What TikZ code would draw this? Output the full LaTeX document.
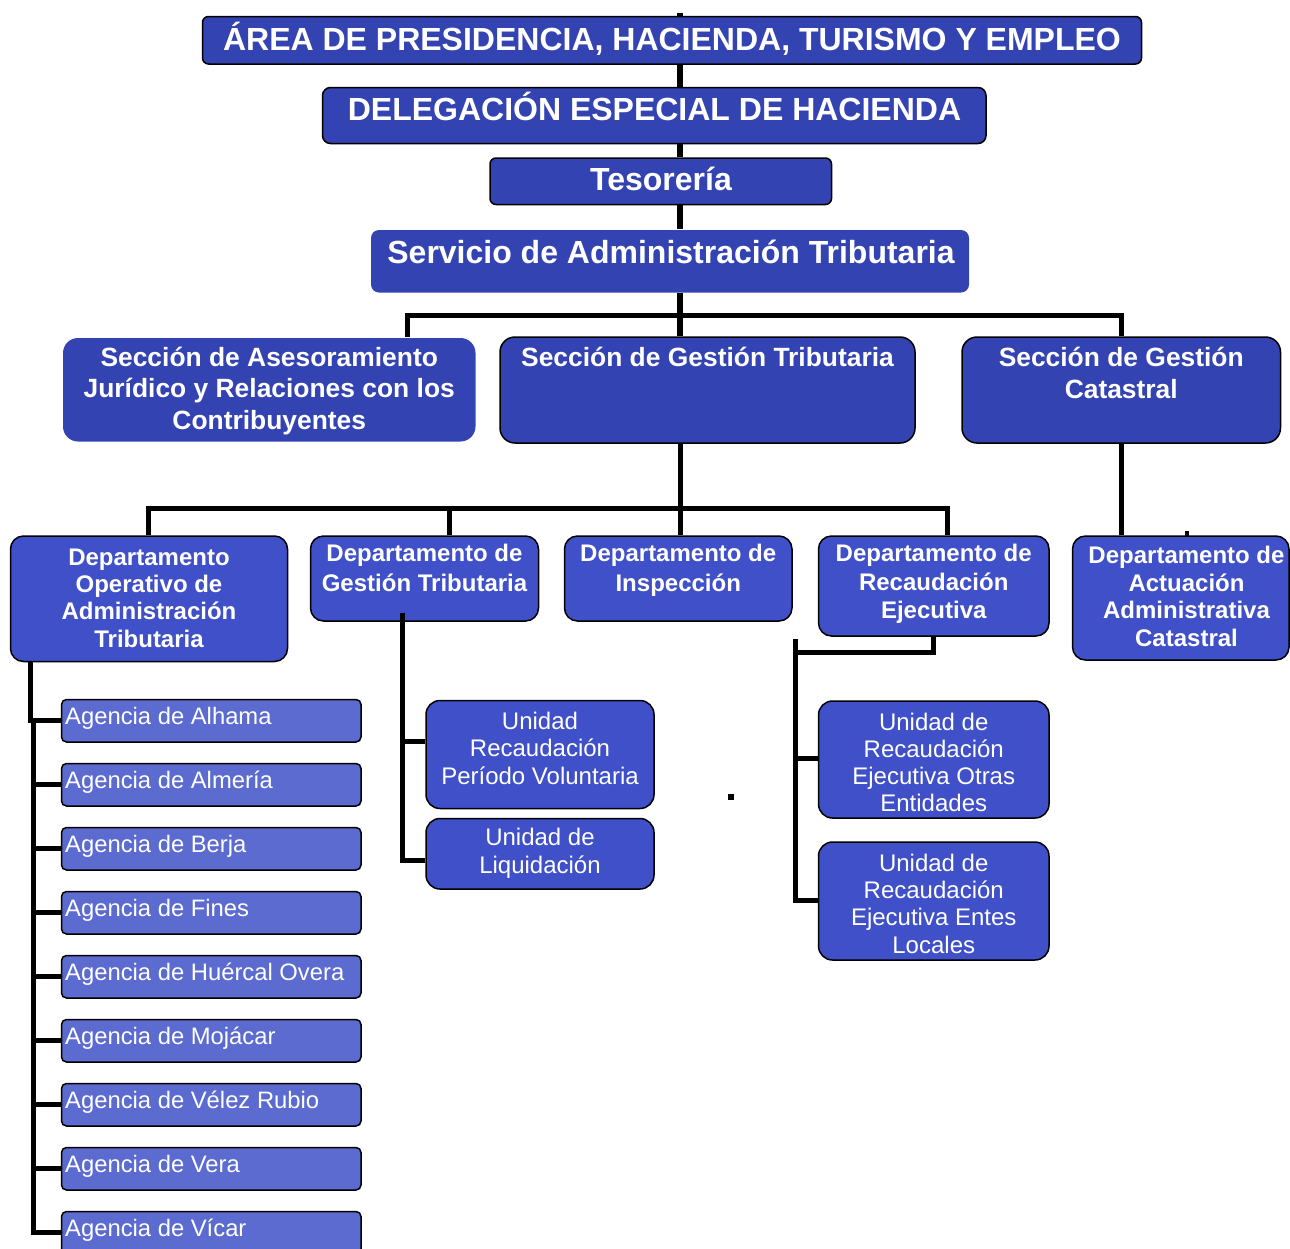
\documentclass[tikz,border=0pt]{standalone}
\usepackage{fontspec}
\setmainfont{Liberation Sans}
\definecolor{azulsup}{RGB}{52,67,178}
\definecolor{azuldep}{RGB}{64,80,200}
\definecolor{azulag}{RGB}{92,107,208}
\begin{document}
\begin{tikzpicture}[x=1pt,y=-1pt,line join=miter,line cap=butt]
	\useasboundingbox (0,0) rectangle (1290,1248);
	%%%% estilos (el texto se ancla en la linea base de su ultima linea)
	\tikzset{
		caja/.style={rectangle,draw=black,line width=1.5pt,fill=azulsup,rounded corners=#1,inner sep=0pt},
		caja/.default=7pt,
		cajalisa/.style={caja=#1,draw=none},
		cajadep/.style={caja=#1,fill=azuldep},
		cajadep/.default=13pt,
		cajaag/.style={caja=5pt,fill=azulag},
		tgr/.style={text=white,inner sep=0pt,align=center,anchor=base,font=\fontsize{32}{38}\selectfont\bfseries},
		tsec/.style={tgr,font=\fontsize{26.4}{31.6}\selectfont\bfseries},
		tdep/.style={tgr,font=\fontsize{24}{#1}\selectfont\bfseries},
		tdep/.default=27.8,
		tuni/.style={tgr,font=\fontsize{24}{#1}\selectfont},
		tuni/.default=27.5,
		tag/.style={text=white,inner sep=0pt,anchor=base west,font=\fontsize{23.8}{28}\selectfont},
		linea/.style={line width=5.5pt,draw=black},
		lineab/.style={line width=5pt,draw=black}
	}
	%%%% Nivel superior
	\node[caja=6pt,minimum width=939pt,minimum height=47.5pt] (area) at (672,40.25) {};
	\node[tgr] (area-t) at (672,50) {ÁREA DE PRESIDENCIA, HACIENDA, TURISMO Y EMPLEO};
	\node[caja=8pt,minimum width=663.5pt,minimum height=56pt] (dele) at (654.25,115.5) {};
	\node[tgr] (dele-t) at (654.5,120.7) {DELEGACIÓN ESPECIAL DE HACIENDA};
	\node[caja=6pt,minimum width=341.5pt,minimum height=46.5pt] (teso) at (660.75,181.25) {};
	\node[tgr] (teso-t) at (661,190.7) {Tesorería};
	\node[cajalisa=8pt,minimum width=598pt,minimum height=62.5pt] (serv) at (670,261.25) {};
	\node[tgr] (serv-t) at (671,263.3) {Servicio de Administración Tributaria};
	%%%% Secciones
	\node[cajalisa=15pt,minimum width=412.5pt,minimum height=103.5pt] (ases) at (269.25,389.75) {};
	\node[tsec] (ases-t) at (269.25,429.5) {Sección de Asesoramiento\\Jurídico y Relaciones con los\\Contribuyentes};
	\node[caja=15pt,minimum width=415pt,minimum height=106pt] (sgt) at (707.5,390) {};
	\node[tsec] (sgt-t) at (707.5,366.7) {Sección de Gestión Tributaria};
	\node[caja=15pt,minimum width=318.5pt,minimum height=106pt] (scat) at (1121.25,390) {};
	\node[tsec] (scat-t) at (1121.25,398) {Sección de Gestión\\Catastral};
	%%%% Departamentos
	\node[cajadep,minimum width=277pt,minimum height=125.5pt] (dop) at (149,598.75) {};
	\node[tdep=27.4] (dop-t) at (149,647.2) {Departamento\\Operativo de\\Administración\\Tributaria};
	\node[cajadep,minimum width=228pt,minimum height=85pt] (dgt) at (424.5,578.5) {};
	\node[tdep=30] (dgt-t) at (424.5,591.7) {Departamento de\\Gestión Tributaria};
	\node[cajadep,minimum width=227.5pt,minimum height=85pt] (dins) at (678.25,578.5) {};
	\node[tdep=30] (dins-t) at (678.25,591.7) {Departamento de\\Inspección};
	\node[cajadep,minimum width=230.5pt,minimum height=100pt] (drec) at (933.75,586) {};
	\node[tdep=28.3] (drec-t) at (933.75,618.3) {Departamento de\\Recaudación\\Ejecutiva};
	\node[cajadep,minimum width=216.5pt,minimum height=124pt] (dact) at (1180.75,598) {};
	\node[tdep] (dact-t) at (1186.5,646.7) {Departamento de\\Actuación\\Administrativa\\Catastral};
	%%%% Unidades
	\node[cajadep=14pt,minimum width=228pt,minimum height=108pt] (urpv) at (540,754.5) {};
	\node[tuni] (urpv-t) at (540,784) {Unidad\\Recaudación\\Período Voluntaria};
	\node[cajadep=14pt,minimum width=228pt,minimum height=70.5pt] (uliq) at (540,853.75) {};
	\node[tuni=28] (uliq-t) at (540,873) {Unidad de\\Liquidación};
	\node[cajadep=14pt,minimum width=230.5pt,minimum height=117pt] (uoe) at (933.75,759.5) {};
	\begin{scope}
		\clip (818.5,700) rectangle (1049,812);
		\node[tuni=27] (uoe-t) at (933.75,811) {Unidad de\\Recaudación\\Ejecutiva Otras\\Entidades};
	\end{scope}
	\node[cajadep=14pt,minimum width=230.5pt,minimum height=118pt] (uel) at (933.75,901) {};
	\node[tuni=27.3] (uel-t) at (933.75,953) {Unidad de\\Recaudación\\Ejecutiva Entes\\Locales};
	%%%% Agencias
	\foreach \nom [count=\i from 0] in {Alhama,Almería,Berja,Fines,Huércal Overa,Mojácar,Vélez Rubio,Vera,Vícar}{
		\node[cajaag,minimum width=299.5pt,minimum height=42.5pt] (ag\i) at (211.25,720.75+64*\i) {};
		\node[tag] (ag\i-t) at (65,724.2+64*\i) {Agencia de \nom};
	}
	%%%% Conectores
	\coordinate (eje) at (680,13);
	\draw[linea] (eje) -- (area.north -| eje);
	\draw[linea] (area.south -| eje) -- (dele.north -| eje);
	\draw[linea] (dele.south -| eje) -- (teso.north -| eje);
	\draw[linea] (teso.south -| eje) -- (serv.north -| eje);
	\draw[linea] (serv.south -| eje) -- (sgt.north -| eje);
	\coordinate (b1i) at (407,315);
	\coordinate (b1d) at (1121.25,315);
	\draw[lineab] (ases.north -| b1i) -- (b1i) -- (b1d) -- (scat.north -| b1d);
	% barra de departamentos
	\coordinate (b2i) at (148,508);
	\coordinate (b2g) at (449,508);
	\coordinate (b2d) at (947,508);
	\draw[lineab] (sgt.south -| eje) -- (dins.north -| eje);
	\draw[lineab] (dop.north -| b2i) -- (b2i) -- (b2d) -- (drec.north -| b2d);
	\draw[lineab] (b2g) -- (dgt.north -| b2g);
	\draw[lineab] (scat.south) -- (dact.north -| scat.south);
	% agencias
	\coordinate (ejeop) at (30,0);
	\coordinate (ejeag) at (33,0);
	\draw[lineab] (dop.south -| ejeop) |- (ag0.west);
	\draw[lineab] (ag0.west -| ejeag) |- (ag8.west);
	\foreach \i in {1,...,7}{
		\draw[lineab] (ag\i.west -| ejeag) -- (ag\i.west);
	}
	% gestion tributaria
	\coordinate (g1) at (402,613);
	\coordinate (g2) at (402,741.5);
	\coordinate (g3) at (402,860);
	\draw[lineab] (g1) |- (uliq.west |- g3);
	\draw[lineab] (g2) -- (urpv.west |- g2);
	% recaudacion
	\coordinate (r0) at (795,639);
	\coordinate (r2) at (795,652);
	\coordinate (r4) at (795,900);
	\coordinate (r5) at (795,758);
	\draw[lineab] (drec.south) |- (r2);
	\draw[lineab] (r0) |- (uel.west |- r4);
	\draw[lineab] (r5) -- (uoe.west |- r5);
	% marcas sueltas
	\fill (728,794) rectangle (734,800);
	\fill (1185,531) rectangle (1189,536);
\end{tikzpicture}
\end{document}
